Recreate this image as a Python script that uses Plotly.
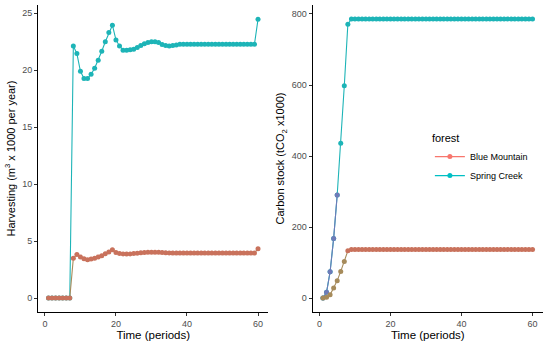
import plotly.graph_objects as go
from plotly.subplots import make_subplots

periods = list(range(1, 61))

harvest_spring = ([0]*7 + [22.13, 21.46, 19.9, 19.27, 19.27, 19.65, 20.18, 20.88, 21.67, 22.5, 23.3, 23.95,
                   22.66, 22.13, 21.75, 21.75, 21.8, 21.85, 21.99, 22.16, 22.33, 22.43, 22.49, 22.49,
                   22.43, 22.25, 22.16, 22.13, 22.16, 22.22] + [22.28]*22 + [24.47])
harvest_blue = ([0]*7 + [3.5, 3.83, 3.6, 3.45, 3.36, 3.42, 3.5, 3.6, 3.72, 3.88, 4.05, 4.24,
                 4.0, 3.9, 3.87, 3.86, 3.87, 3.9, 3.93, 3.97, 4.0, 4.02, 4.03, 4.03,
                 4.02, 4.0, 3.98, 3.96, 3.95, 3.95] + [3.95]*22 + [4.33])
carbon_spring = [0, 16, 74, 168, 290, 436, 598, 771] + [786]*52
carbon_blue = [0, 2, 9, 28, 49, 75, 103, 133] + [137]*52

teal = "#1DB4B7"
red_pt = "#C9725C"
olive = "#A68B5B"
purple = "#6E7BB8"

fig = make_subplots(rows=1, cols=2, horizontal_spacing=0.0872)

# Left panel
fig.add_trace(go.Scatter(x=periods, y=harvest_spring, mode="lines+markers", name="Spring Creek",
                         line=dict(color=teal, width=1.1), marker=dict(color=teal, size=5),
                         showlegend=False), row=1, col=1)
fig.add_trace(go.Scatter(x=periods, y=harvest_blue, mode="lines+markers", name="Blue Mountain",
                         line=dict(color=olive, width=1.1), marker=dict(color=red_pt, size=5),
                         showlegend=False), row=1, col=1)

# Right panel
fig.add_trace(go.Scatter(x=periods, y=carbon_spring, mode="lines+markers", name="Spring Creek",
                         line=dict(color=teal, width=1.1), marker=dict(color=teal, size=5),
                         showlegend=False), row=1, col=2)
fig.add_trace(go.Scatter(x=periods[:5], y=carbon_spring[:5], mode="lines+markers",
                         line=dict(color=purple, width=1.1), marker=dict(color=purple, size=5),
                         showlegend=False), row=1, col=2)
fig.add_trace(go.Scatter(x=periods, y=carbon_blue, mode="lines+markers", name="Blue Mountain",
                         line=dict(color=olive, width=1.1),
                         marker=dict(color=[olive]*7 + [red_pt]*53, size=5),
                         showlegend=False), row=1, col=2)

# Legend entries
fig.add_trace(go.Scatter(x=[None], y=[None], mode="lines+markers", name="Blue Mountain",
                         line=dict(color="#F8766D", width=1.1), marker=dict(color="#F8766D", size=5)),
              row=1, col=2)
fig.add_trace(go.Scatter(x=[None], y=[None], mode="lines+markers", name="Spring Creek",
                         line=dict(color="#00BFC4", width=1.1), marker=dict(color="#00BFC4", size=5)),
              row=1, col=2)

axis_common = dict(showgrid=False, zeroline=False, showline=True, linecolor="black", linewidth=1,
                   ticks="outside", ticklen=3, tickcolor="#333333",
                   tickfont=dict(size=9, color="#4D4D4D"))

fig.update_xaxes(**axis_common, range=[-1.95, 62.95], tickvals=[0, 20, 40, 60],
                 title=dict(text="Time (periods)", font=dict(size=11.5, color="black"), standoff=2))
fig.update_yaxes(**axis_common)
fig.update_yaxes(range=[-1.225, 25.725], tickvals=[0, 5, 10, 15, 20, 25],
                 title=dict(text="Harvesting (m<sup>3</sup> x 1000 per year)",
                            font=dict(size=11, color="black"), standoff=4), row=1, col=1)
fig.update_yaxes(range=[-39.3, 825.3], tickvals=[0, 200, 400, 600, 800],
                 title=dict(text="Carbon stock (tCO<sub>2</sub> x1000)",
                            font=dict(size=11, color="black"), standoff=4), row=1, col=2)

fig.update_layout(
    width=550, height=344,
    margin=dict(l=38, r=7, t=5, b=32),
    paper_bgcolor="white", plot_bgcolor="white",
    font=dict(family="Liberation Sans, Arial, sans-serif"),
    legend=dict(x=0.776, y=0.60, xanchor="left", yanchor="top",
                title=dict(text="forest", font=dict(size=11, color="black")),
                font=dict(size=9, color="black"), bgcolor="rgba(0,0,0,0)",
                itemwidth=30, tracegroupgap=2),
)

fig.write_html("out.html", config={"displayModeBar": False},
               post_script="document.body.style.margin='0';document.body.style.overflow='hidden';")
